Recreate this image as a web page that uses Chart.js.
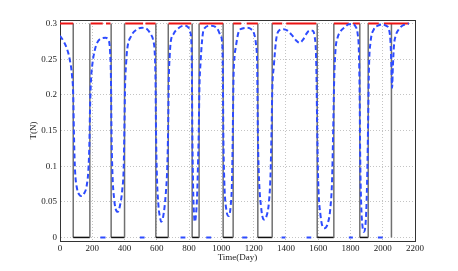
<!DOCTYPE html>
<html><head><meta charset="utf-8">
<script src="https://cdn.jsdelivr.net/npm/chart.js@4/dist/chart.umd.min.js"></script>
<style>html,body{margin:0;padding:0;background:#fff;}canvas{display:block;}</style>
</head><body>
<canvas id="c" width="458" height="271"></canvas>
<script>
// ---- data ----
const xTicks = [0,200,400,600,800,1000,1200,1400,1600,1800,2000,2200];
const yTicks = [0,0.05,0.1,0.15,0.2,0.25,0.3];
const yTickLabels = ['0','0.05','0.1','0.15','0.2','0.25','0.3'];
const uMax = 0.3;
// bang-bang control: starts at uMax, toggles at each switch time
const switchTimes = [82,185,317,400,594,671,819,862,1011,1073,1226,1315,1594,1697,1858,1910,2054,2054];
const tEnd = 2162;
// red line at uMax (visible pieces)
const redOn = [[0,82],[190,265],[285,313],[404,515],[530,592],[673,813],[865,1011],[1073,1123],[1157,1226],[1315,1377],[1402,1588],[1697,1790],[1815,1858],[1910,1976],[2007,2162]];
// blue dashed state curve
const blueT = [0,20,41,60,75,82,86,92,106,120,133,150,165,176,182,186,192,200,215,230,255,282,300,310,316,319,325,335,345,358,372,385,395,399,403,410,416,440,478,510,540,565,577,588,592,595,600,610,620,627,640,655,665,670,674,680,685,705,726,767,798,808,813,817,820,825,830,835,842,850,856,860,864,871,880,891,933,974,995,1005,1009,1012,1018,1030,1046,1058,1066,1071,1075,1082,1088,1108,1130,1160,1185,1201,1215,1222,1226,1232,1245,1263,1280,1295,1305,1311,1316,1325,1340,1356,1385,1410,1440,1465,1484,1505,1525,1545,1565,1578,1586,1590,1594,1600,1615,1639,1660,1675,1686,1693,1699,1707,1720,1738,1765,1790,1815,1831,1845,1852,1857,1860,1866,1875,1883,1892,1900,1906,1910,1915,1924,1945,1970,1997,2020,2038,2048,2054,2058,2063,2070,2079,2100,2121,2145,2162];
const blueY = [.283,.276,.266,.250,.226,.200,.150,.100,.068,.060,.058,.062,.072,.095,.130,.180,.220,.242,.262,.273,.279,.280,.277,.262,.220,.150,.090,.055,.040,.036,.045,.065,.100,.150,.210,.245,.263,.282,.292,.294,.292,.284,.277,.255,.220,.150,.090,.045,.028,.022,.030,.060,.100,.150,.220,.255,.272,.286,.292,.297,.294,.287,.280,.240,.150,.070,.035,.022,.030,.060,.110,.150,.210,.245,.275,.292,.297,.293,.283,.273,.240,.150,.080,.040,.030,.045,.080,.150,.220,.255,.265,.289,.293,.294,.292,.287,.270,.240,.150,.090,.045,.025,.030,.050,.090,.150,.210,.240,.278,.290,.292,.290,.283,.276,.273,.277,.285,.290,.290,.282,.260,.220,.150,.080,.030,.013,.020,.040,.080,.150,.220,.262,.280,.289,.295,.299,.299,.296,.285,.263,.200,.120,.050,.015,.008,.015,.050,.110,.170,.240,.273,.292,.297,.299,.297,.292,.275,.240,.210,.240,.270,.282,.292,.297,.299,.300];
// short blue pieces lying on zero
const blueZero = [[250,282],[495,524],[747,777],[906,937],[1129,1160],[1373,1397],[1528,1557],[1790,1815],[1970,2000]];

// ---- build datasets ----
const controlPts = [];
let lvl = uMax; controlPts.push({x:0,y:lvl});
for (const t of switchTimes) { controlPts.push({x:t,y:lvl}); lvl = (lvl===uMax)?0:uMax; controlPts.push({x:t,y:lvl}); }
controlPts.push({x:tEnd,y:lvl});
const redPts = [];
for (const [a,b] of redOn) { redPts.push({x:a,y:uMax},{x:b,y:uMax},{x:b,y:null}); }
const bluePts = blueT.map((t,i)=>({x:t,y:blueY[i]}));
const zeroPts = [];
for (const [a,b] of blueZero) { zeroPts.push({x:a,y:0},{x:b,y:0},{x:b,y:null}); }

const font = {family:"'Liberation Serif','Times New Roman',serif", size:9};
const txt = '#222';
function ctrlColor(c){
  if (c.p0.parsed.y===uMax && c.p1.parsed.y===uMax) return 'rgba(0,0,0,0)';
  if (c.p0.parsed.x===c.p1.parsed.x) return '#707070';
  return '#111';
}
new Chart(document.getElementById('c'), {
  type:'line',
  data:{datasets:[
    {data:bluePts, borderColor:'rgb(45,75,255)', borderWidth:2, borderDash:[5,3], pointRadius:0, cubicInterpolationMode:'monotone', order:0},
    {data:zeroPts, borderColor:'rgb(45,75,255)', borderWidth:2, pointRadius:0, spanGaps:false, order:0},
    {data:redPts, borderColor:'rgb(235,20,20)', borderWidth:2, pointRadius:0, spanGaps:false, order:1},
    {data:controlPts, borderColor:'#111', borderWidth:1.5, pointRadius:0, tension:0, order:2,
     segment:{borderColor: ctrlColor}}
  ]},
  options:{
    responsive:false, animation:false, devicePixelRatio:1,
    layout:{padding:0},
    plugins:{legend:{display:false}, tooltip:{enabled:false}},
    scales:{
      x:{type:'linear', position:'bottom', min:0, max:2200,
         afterBuildTicks:s=>{s.ticks = xTicks.map(v=>({value:v}));},
         ticks:{font, color:txt, padding:2, maxRotation:0, autoSkip:false, callback:v=>String(v)},
         grid:{color:'#c4c4c4', drawTicks:false, lineWidth:1},
         border:{display:true, color:'#333', width:1, dash:[1,2]},
         title:{display:true, text:'Time(Day)', font, color:txt, padding:{top:0,bottom:8}},
         afterFit:s=>{s.height=30;}},
      y:{type:'linear', position:'left', min:-0.005, max:0.305,
         afterBuildTicks:s=>{s.ticks = yTicks.map(v=>({value:v}));},
         ticks:{font, color:txt, padding:3, autoSkip:false, callback:v=>yTickLabels[yTicks.indexOf(v)]},
         grid:{color:'#c4c4c4', drawTicks:false, lineWidth:1},
         border:{display:true, color:'#333', width:1, dash:[1,2]},
         title:{display:true, text:'T(N)', font, color:txt, padding:{top:28,bottom:0}},
         afterFit:s=>{s.width=60;}},
      x2:{type:'linear', position:'top', min:0, max:2200,
         ticks:{display:false}, grid:{display:false, drawTicks:false},
         border:{display:true, color:'#333', width:1},
         afterFit:s=>{s.height=20;}},
      y2:{type:'linear', position:'right', min:-0.005, max:0.305,
         ticks:{display:false}, grid:{display:false, drawTicks:false},
         border:{display:true, color:'#333', width:1},
         afterFit:s=>{s.width=43;}}
    }
  }
});
</script>
</body></html>
